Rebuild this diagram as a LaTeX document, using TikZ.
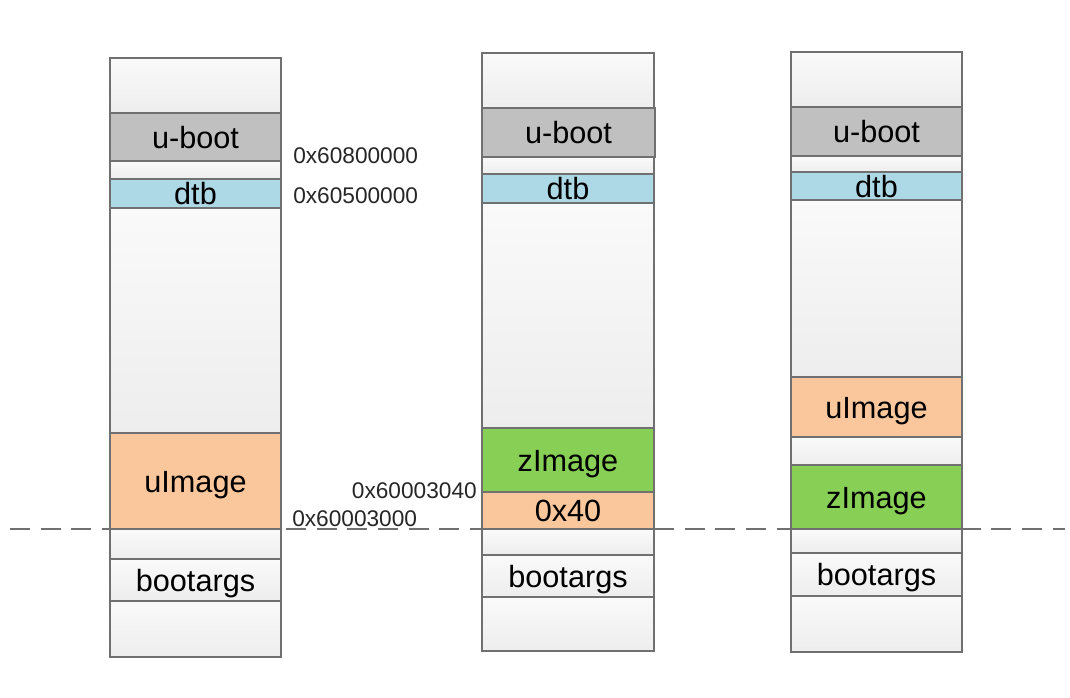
\documentclass[tikz,border=0pt]{standalone}
\usepackage{fontspec}
\setmainfont{Liberation Sans}
\usepackage{xcolor}
\usetikzlibrary{positioning}
\def\px{0.75pt}
\definecolor{bootgray}{HTML}{C0C0C0}
\definecolor{dtbblue}{HTML}{ADD8E6}
\definecolor{imgpeach}{HTML}{F9C79B}
\definecolor{imggreen}{HTML}{88CF56}
\definecolor{cellline}{HTML}{707070}
\begin{document}
\begin{tikzpicture}[
    x=0.75pt, y=-0.75pt,
    node distance=0pt,
    cell/.style={draw=cellline, line width=1.2pt, rectangle, inner sep=0pt, outer sep=0pt,
        minimum width=171*\px, font=\fontsize{23}{26}\selectfont},
    txt/.style={text height=17pt, text depth=0pt},
    emptycell/.style={cell, top color=white!98!black, bottom color=white!93!black},
    addr/.style={inner sep=0pt, font=\fontsize{17}{19}\selectfont, text=black!85}
]
    \useasboundingbox[fill=white] (0,0) rectangle (1070,697);
    \coordinate (dl) at (10,529);
    \coordinate (dr) at (1065,529);
    \draw[cellline, line width=0.8pt, dash pattern=on 15pt off 8pt] (dl) -- (dr);

    % first column
    \node[emptycell, minimum height=55*\px] (c1a) at (195.5,85.5) {};
    \node[cell, txt, fill=bootgray, minimum height=48*\px, below=of c1a] (c1boot) {u-boot};
    \node[emptycell, minimum height=18*\px, below=of c1boot] (c1b) {};
    \node[cell, txt, fill=dtbblue, minimum height=29*\px, below=of c1b] (c1dtb) {dtb};
    \node[emptycell, minimum height=225*\px, below=of c1dtb] (c1c) {};
    \node[cell, txt, fill=imgpeach, minimum height=96*\px, below=of c1c] (c1uimg) {uImage};
    \node[emptycell, minimum height=30*\px, below=of c1uimg] (c1d) {};
    \node[emptycell, txt, minimum height=42*\px, below=of c1d] (c1args) {bootargs};
    \node[emptycell, minimum height=56*\px, below=of c1args] (c1e) {};

    % second column
    \node[emptycell, minimum height=55*\px, minimum width=172*\px] (c2a) at (568,80.5) {};
    \node[cell, txt, fill=bootgray, minimum height=49*\px, minimum width=173*\px, below=of c2a, xshift=0.5*\px] (c2boot) {u-boot};
    \node[emptycell, minimum height=17*\px, minimum width=172*\px, below=of c2a, yshift=-49*\px] (c2b) {};
    \node[cell, txt, fill=dtbblue, minimum height=29*\px, minimum width=172*\px, below=of c2b] (c2dtb) {dtb};
    \node[emptycell, minimum height=225*\px, minimum width=172*\px, below=of c2dtb] (c2c) {};
    \node[cell, txt, fill=imggreen, minimum height=64*\px, minimum width=172*\px, below=of c2c] (c2zimg) {zImage};
    \node[cell, txt, fill=imgpeach, minimum height=37*\px, minimum width=172*\px, below=of c2zimg] (c2off) {0x40};
    \node[emptycell, minimum height=26*\px, minimum width=172*\px, below=of c2off] (c2d) {};
    \node[emptycell, txt, minimum height=42*\px, minimum width=172*\px, below=of c2d] (c2args) {bootargs};
    \node[emptycell, minimum height=54*\px, minimum width=172*\px, below=of c2args] (c2e) {};

    % third column
    \node[emptycell, minimum height=55*\px] (c3a) at (876.5,79.5) {};
    \node[cell, txt, fill=bootgray, minimum height=49*\px, below=of c3a] (c3boot) {u-boot};
    \node[emptycell, minimum height=16*\px, below=of c3boot] (c3b) {};
    \node[cell, txt, fill=dtbblue, minimum height=28*\px, below=of c3b] (c3dtb) {dtb};
    \node[emptycell, minimum height=177*\px, below=of c3dtb] (c3c) {};
    \node[cell, txt, fill=imgpeach, minimum height=60*\px, below=of c3c] (c3uimg) {uImage};
    \node[emptycell, minimum height=28*\px, below=of c3uimg] (c3f) {};
    \node[cell, txt, fill=imggreen, minimum height=64*\px, below=of c3f] (c3zimg) {zImage};
    \node[emptycell, minimum height=24*\px, below=of c3zimg] (c3d) {};
    \node[emptycell, txt, minimum height=43*\px, below=of c3d] (c3args) {bootargs};
    \node[emptycell, minimum height=56*\px, below=of c3args] (c3e) {};

    % addresses
    \node[addr, anchor=west] (a608) at (293,156) {0x60800000};
    \node[addr, anchor=west] (a605) at (293,196) {0x60500000};
    \node[addr, anchor=east] (a3040) at (477,491) {0x60003040};
    \node[addr, anchor=west] (a3000) at (292,519) {0x60003000};
\end{tikzpicture}
\end{document}
